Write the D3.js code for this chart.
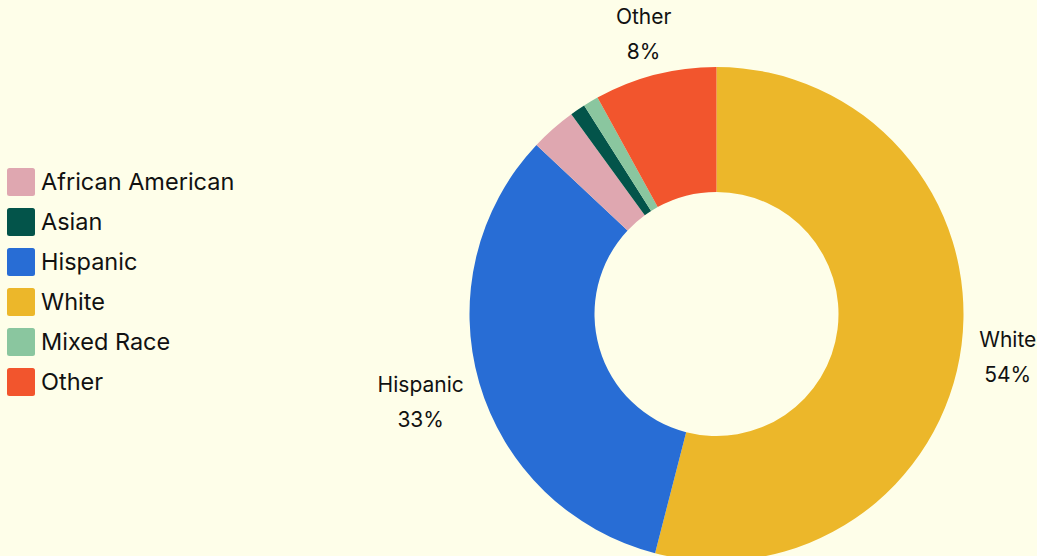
<!DOCTYPE html>
<html>
<head>
<meta charset="utf-8">
<script src="https://cdn.jsdelivr.net/npm/d3@7"></script>
<style>
  html, body { margin: 0; padding: 0; background: #fefee9; }
  svg { display: block; font-family: Inter, "Liberation Sans", sans-serif; }
</style>
</head>
<body>
<svg id="chart" width="1037" height="556"></svg>
<script>
// Population share by group, in the order drawn clockwise from 12 o'clock
const groups  = ["White", "Hispanic", "African American", "Asian", "Mixed Race", "Other"];
const shares  = [54, 33, 3, 1, 1, 8];
const colors  = ["#ecb72a", "#286dd5", "#dfa7b0", "#03544a", "#8ac69f", "#f2552d"];

// Legend order
const legendOrder = ["African American", "Asian", "Hispanic", "White", "Mixed Race", "Other"];

// Only slices at or above this share get an outside label
const labelMin = 5;

const W = 1037, H = 556;
const cx = 716.5, cy = 314;
const outerR = 247, innerR = 122;

const svg = d3.select("#chart");
svg.append("rect").attr("width", W).attr("height", H).attr("fill", "#fefee9");

const data = groups.map((g, i) => ({ group: g, value: shares[i] }));
const color = d3.scaleOrdinal().domain(groups).range(colors);

const pie = d3.pie().value(d => d.value).sort(null);
const arc = d3.arc().innerRadius(innerR).outerRadius(outerR);
const labelArc = d3.arc().innerRadius(265).outerRadius(265);

const g = svg.append("g").attr("transform", `translate(${cx},${cy})`);
const arcs = pie(data);

g.selectAll("path.slice")
  .data(arcs)
  .join("path")
  .attr("class", "slice")
  .attr("d", arc)
  .attr("fill", d => color(d.data.group));

// Outside labels: name on one line, percentage below, box pushed outward
const labels = g.selectAll("g.label")
  .data(arcs.filter(d => d.data.value >= labelMin))
  .join("g")
  .attr("class", "label");

labels.each(function(d) {
  const sel = d3.select(this);
  const t = sel.append("text")
    .attr("text-anchor", "middle")
    .attr("font-size", 21)
    .attr("fill", "#111");
  t.append("tspan").attr("x", 0).attr("dy", 0).text(d.data.group);
  t.append("tspan").attr("x", 0).attr("dy", 35).text(d.data.value + "%");
  const bb = t.node().getBBox();
  const mid = (d.startAngle + d.endAngle) / 2;
  const [px, py] = labelArc.centroid(d);
  const ox = Math.sin(mid) * bb.width / 2;
  const oy = -Math.cos(mid) * bb.height / 2 + 6;
  const bcx = bb.x + bb.width / 2, bcy = bb.y + bb.height / 2;
  sel.attr("transform", `translate(${px + ox - bcx},${py + oy - bcy})`);
});

// Legend
const legend = svg.append("g").attr("transform", "translate(7,168)");
const rowH = 40;
const row = legend.selectAll("g.row")
  .data(legendOrder)
  .join("g")
  .attr("class", "row")
  .attr("transform", (d, i) => `translate(0,${i * rowH})`);

row.append("rect")
  .attr("width", 28).attr("height", 28)
  .attr("rx", 2.5)
  .attr("fill", d => color(d));

row.append("text")
  .attr("x", 34)
  .attr("y", 14)
  .attr("dy", "0.36em")
  .attr("font-size", 23.5)
  .attr("fill", "#111")
  .text(d => d);
</script>
</body>
</html>
